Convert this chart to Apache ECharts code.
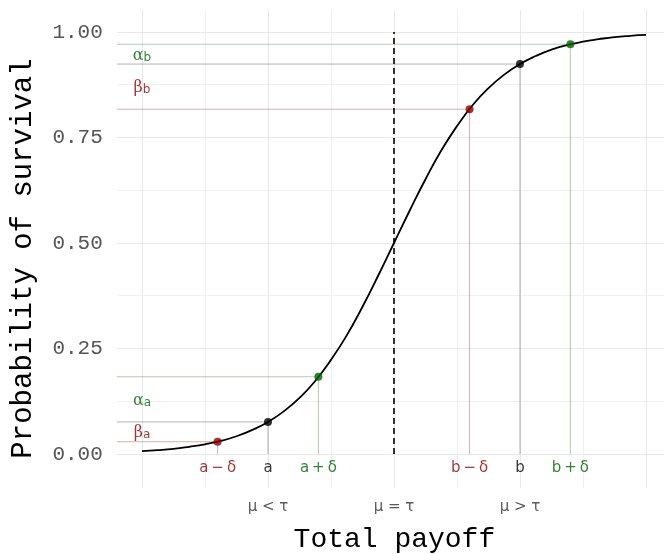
<!DOCTYPE html>
<html>
<head>
<meta charset="utf-8">
<script src="https://cdn.jsdelivr.net/npm/echarts@6/dist/echarts.min.js"></script>
<style>
  html, body { margin: 0; padding: 0; background: #fff; }
  #chart { width: 664px; height: 554px; }
</style>
</head>
<body>
<div id="chart"></div>
<script>
// Logistic survival curve sampled along total payoff
const payoff = [0, 0.25, 0.5, 0.75, 1, 1.25, 1.5, 1.75, 2, 2.25, 2.5, 2.75, 3, 3.25, 3.5, 3.75,
  4, 4.25, 4.5, 4.75, 5, 5.25, 5.5, 5.75, 6, 6.25, 6.5, 6.75, 7, 7.25, 7.5, 7.75, 8];
const survival = [0.007, 0.009, 0.012, 0.017, 0.023, 0.031, 0.042, 0.057, 0.076, 0.101, 0.133,
  0.173, 0.223, 0.281, 0.349, 0.423, 0.5, 0.577, 0.651, 0.719, 0.777, 0.827, 0.867, 0.899,
  0.924, 0.943, 0.958, 0.969, 0.977, 0.983, 0.988, 0.991, 0.993];

// Marked payoffs and their survival probabilities
const pointNames = ['a\u2009−\u2009δ', 'a', 'a\u2009+\u2009δ', 'b\u2009−\u2009δ', 'b', 'b\u2009+\u2009δ'];
const pointX = [1.2, 2, 2.8, 5.2, 6, 6.8];
const pointY = [0.029, 0.076, 0.183, 0.817, 0.924, 0.971];
const pointKind = ['minus', 'mid', 'plus', 'minus', 'mid', 'plus'];

// Probability gaps labelled at the left edge
const gapSymbol = ['α', 'β', 'α', 'β'];
const gapSub = ['b', 'b', 'a', 'a'];
const gapY = [0.9475, 0.8705, 0.1295, 0.0525];
const gapKind = ['plus', 'minus', 'plus', 'minus'];
const gapX = 0;

// Threshold position and axis ticks
const tauX = 4;
const xTickValues = [2, 4, 6];
const xTickLabels = ['μ < τ', 'μ = τ', 'μ > τ'];
const yTickValues = [0, 0.25, 0.5, 0.75, 1];
const xGridValues = [0, 1, 2, 3, 4, 5, 6, 7, 8];
const yGridValues = [0, 0.125, 0.25, 0.375, 0.5, 0.625, 0.75, 0.875, 1];

const X_MIN = -0.4, X_MAX = 8.286, Y_MIN = -0.0806, Y_MAX = 1.0521;
const POINT_LABEL_Y = -0.033;

const colors = {
  minus: '#8B0000',
  mid: '#000000',
  plus: '#006400'
};
const guideColors = {
  minus: 'rgba(139,0,0,0.32)',
  mid: 'rgba(0,0,0,0.3)',
  plus: 'rgba(0,100,0,0.32)'
};

const series = [];

// Guide lines: from the left edge across to each point, then down to zero
pointX.forEach((x, i) => {
  series.push({
    type: 'line',
    data: [[X_MIN, pointY[i]], [x, pointY[i]], [x, 0]],
    symbol: 'none',
    silent: true,
    lineStyle: { color: guideColors[pointKind[i]], width: 1 },
    z: 2
  });
});

// Threshold
series.push({
  type: 'line',
  data: [[tauX, 0], [tauX, 1]],
  symbol: 'none',
  silent: true,
  lineStyle: { color: '#000', width: 1.6, type: [6, 4] },
  z: 3
});

// Survival curve
series.push({
  type: 'line',
  data: payoff.map((x, i) => [x, survival[i]]),
  smooth: true,
  symbol: 'none',
  lineStyle: { color: '#000', width: 1.8 },
  z: 4
});

// Points on the curve
series.push({
  type: 'scatter',
  data: pointX.map((x, i) => ({
    value: [x, pointY[i]],
    itemStyle: { color: colors[pointKind[i]] }
  })),
  symbolSize: 8,
  z: 5
});

// Labels under the points
series.push({
  type: 'scatter',
  data: pointX.map((x, i) => ({
    value: [x, POINT_LABEL_Y],
    name: pointNames[i],
    label: { color: colors[pointKind[i]] }
  })),
  symbolSize: 0,
  silent: true,
  label: {
    show: true,
    position: 'inside',
    formatter: p => p.name,
    fontFamily: 'DejaVu Sans',
    fontSize: 15
  },
  z: 6
});

// Greek gap labels with subscripts
series.push({
  type: 'scatter',
  data: gapY.map((y, i) => ({
    value: [gapX, y],
    name: '{g|' + gapSymbol[i] + '}{s|' + gapSub[i] + '}',
    label: {
      rich: {
        g: { color: colors[gapKind[i]], fontSize: 16, fontFamily: 'DejaVu Serif', verticalAlign: 'bottom' },
        s: { color: colors[gapKind[i]], fontSize: 12, fontFamily: 'DejaVu Sans', padding: [7, 0, 0, 0] }
      }
    }
  })),
  symbolSize: 0,
  silent: true,
  label: {
    show: true,
    position: 'inside',
    formatter: p => p.name
  },
  z: 6
});

const chart = echarts.init(document.getElementById('chart'), null, { renderer: 'canvas' });
chart.setOption({
  animation: false,
  backgroundColor: '#fff',
  grid: { left: 116.8, right: 0, top: 10, bottom: 66, containLabel: false, outerBoundsMode: 'none' },
  xAxis: {
    type: 'value',
    min: X_MIN,
    max: X_MAX,
    name: 'Total payoff',
    nameLocation: 'middle',
    nameGap: 38,
    nameTextStyle: { fontFamily: 'Liberation Mono', fontSize: 28, color: '#000', padding: [0, 0, 0, 8] },
    axisLine: { show: false },
    axisTick: { show: false, customValues: xGridValues },
    axisLabel: {
      customValues: xTickValues,
      formatter: v => xTickLabels[xTickValues.indexOf(v)],
      fontFamily: 'DejaVu Sans',
      fontSize: 15,
      color: '#5a5a5a',
      margin: 12
    },
    splitLine: { show: true, lineStyle: { color: ['#e8e8e8', '#f0f0f0'], width: 1 } }
  },
  yAxis: {
    type: 'value',
    min: Y_MIN,
    max: Y_MAX,
    name: 'Probability of survival',
    nameLocation: 'middle',
    nameGap: 79,
    nameRotate: 90,
    nameTextStyle: { fontFamily: 'Liberation Mono', fontSize: 29, color: '#000', padding: [0, 19, 0, 0] },
    axisLine: { show: false },
    axisTick: { show: false, customValues: yGridValues },
    axisLabel: {
      customValues: yTickValues,
      formatter: v => v.toFixed(2),
      fontFamily: 'Liberation Mono',
      fontSize: 21,
      color: '#555',
      margin: 14
    },
    splitLine: { show: true, lineStyle: { color: ['#e8e8e8', '#f0f0f0'], width: 1 } }
  },
  series: series
});
</script>
</body>
</html>
